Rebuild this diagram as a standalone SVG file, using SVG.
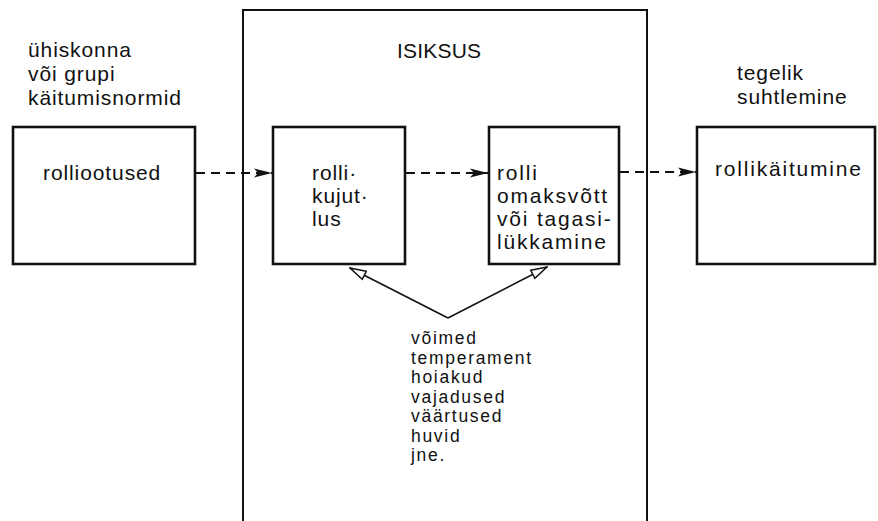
<svg xmlns="http://www.w3.org/2000/svg" width="878" height="521" viewBox="0 0 878 521">
  <style>
    .t { font-family: "Liberation Sans", Arial, sans-serif; font-size: 21px; fill: #111; letter-spacing: 0.9px; }
    .wide { letter-spacing: 1.8px; }
    .caps { letter-spacing: 0.2px; }
    .list { font-size: 17.5px; letter-spacing: 1.7px; }
    .box { fill: none; stroke: #111; stroke-width: 2.6; }
    .frame { fill: none; stroke: #111; stroke-width: 2; }
    .dash { fill: none; stroke: #111; stroke-width: 2; stroke-dasharray: 9 6; }
    .thin { fill: none; stroke: #111; stroke-width: 1.6; }
  </style>
  <defs>
    <marker id="solidHead" viewBox="0 0 18 10" refX="18" refY="5" markerWidth="18" markerHeight="10" markerUnits="userSpaceOnUse" orient="auto">
      <path d="M0,0.5 L18,5 L0,9.5 L4,5 Z" fill="#111"/>
    </marker>
    <marker id="openHead" viewBox="0 0 18 12" refX="17" refY="6" markerWidth="18" markerHeight="12" markerUnits="userSpaceOnUse" orient="auto">
      <path d="M1,1.5 L17,6 L1,10.5 Z" fill="#fff" stroke="#111" stroke-width="1.5"/>
    </marker>
  </defs>

  <!-- personality frame, open at the bottom -->
  <g id="isiksus">
    <path class="frame" d="M243,521 L243,10 L647,10 L647,521"/>
    <text class="t caps" x="397" y="58">ISIKSUS</text>
  </g>

  <g id="rolliootused">
    <text class="t" x="28" y="57">ühiskonna</text>
    <text class="t" x="28" y="81">või grupi</text>
    <text class="t" x="28" y="105">käitumisnormid</text>
    <rect class="box" x="13" y="127" width="182" height="137"/>
    <text class="t" x="43" y="180">rolliootused</text>
  </g>

  <g id="rollikujutlus">
    <rect class="box" x="273" y="127" width="132" height="137"/>
    <text class="t" x="312" y="180">rolli·</text>
    <text class="t" x="312" y="203">kujut·</text>
    <text class="t" x="312" y="226">lus</text>
  </g>

  <g id="omaksvott">
    <rect class="box" x="489" y="127" width="130" height="137"/>
    <text class="t wide" x="497" y="180">rolli</text>
    <text class="t wide" x="497" y="203">omaksvõtt</text>
    <text class="t wide" x="497" y="226">või tagasi-</text>
    <text class="t wide" x="497" y="249">lükkamine</text>
  </g>

  <g id="rollikaitumine">
    <text class="t" x="737" y="80">tegelik</text>
    <text class="t" x="737" y="104">suhtlemine</text>
    <rect class="box" x="697" y="127" width="178" height="137"/>
    <text class="t wide" x="715" y="176">rollikäitumine</text>
  </g>

  <g id="omadused">
    <text class="t list" x="411" y="344">võimed</text>
    <text class="t list" x="411" y="363.5">temperament</text>
    <text class="t list" x="411" y="383">hoiakud</text>
    <text class="t list" x="411" y="402.5">vajadused</text>
    <text class="t list" x="411" y="422">väärtused</text>
    <text class="t list" x="411" y="441.5">huvid</text>
    <text class="t list" x="411" y="461">jne.</text>
  </g>

  <g id="connectors">
    <line class="dash" x1="196" y1="173" x2="272" y2="173" marker-end="url(#solidHead)"/>
    <line class="dash" x1="406" y1="173" x2="488" y2="173" marker-end="url(#solidHead)"/>
    <line class="dash" x1="620" y1="172" x2="696" y2="172" marker-end="url(#solidHead)"/>
    <line class="thin" x1="448" y1="318" x2="350" y2="268" marker-end="url(#openHead)"/>
    <line class="thin" x1="448" y1="318" x2="547" y2="267" marker-end="url(#openHead)"/>
  </g>
</svg>
